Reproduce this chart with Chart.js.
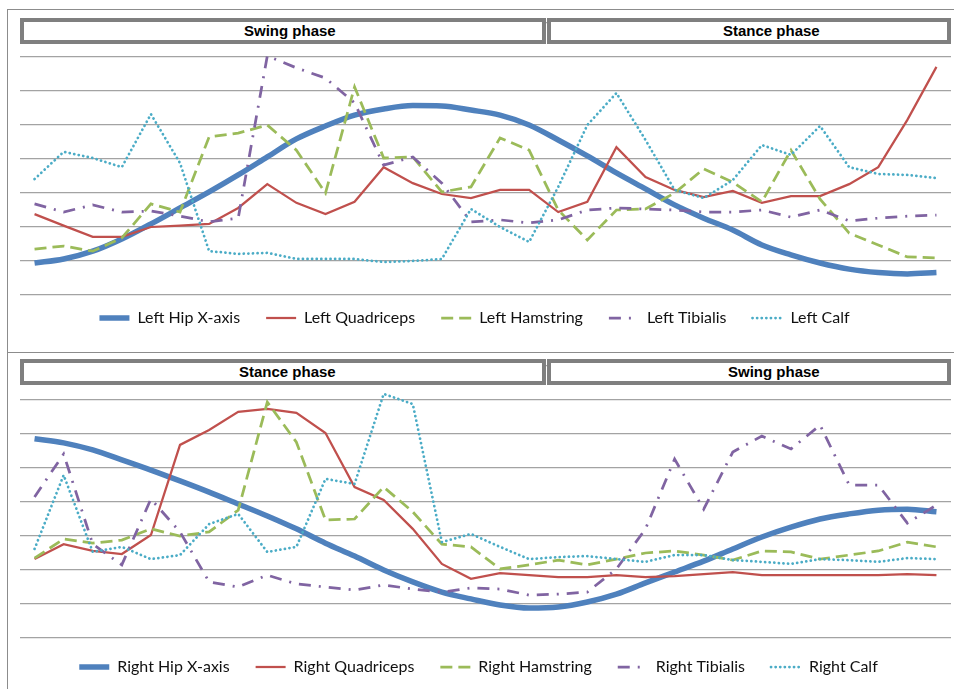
<!DOCTYPE html>
<html>
<head>
<meta charset="utf-8">
<script src="https://cdn.jsdelivr.net/npm/chart.js@4.4.1/dist/chart.umd.min.js"></script>
<style>
  body { margin: 0; width: 954px; height: 689px; overflow: hidden; background: #fff; position: relative; }
  .panel { position: absolute; left: 7px; width: 1000px; border: 1px solid #8c8c8c; }
  .phase { position: absolute; height: 26px; box-sizing: border-box; border: 4px solid #7f7f7f; background: #fff; z-index: 2; }
  .phase span { position: absolute; top: 0; font: bold 15px "Liberation Sans", Arial, sans-serif; line-height: 18px; white-space: nowrap; color: #000; }
  canvas { position: absolute; left: 0; z-index: 1; }
</style>
</head>
<body>
<div class="panel" style="top:9px;height:342px;"></div>
<div class="panel" style="top:352px;height:400px;"></div>

<div class="phase" style="left:20px;top:18px;width:526px;"><span style="left:220px">Swing phase</span></div>
<div class="phase" style="left:547px;top:18px;width:404px;"><span style="left:172px">Stance phase</span></div>
<div class="phase" style="left:20px;top:359px;width:526px;"><span style="left:215px">Stance phase</span></div>
<div class="phase" style="left:547px;top:359px;width:404px;"><span style="left:177px">Swing phase</span></div>

<canvas id="leftChart" width="954" height="350" style="top:0px"></canvas>
<canvas id="rightChart" width="954" height="350" style="top:343px"></canvas>

<script>
// gait cycle samples
const samples = [1, 2, 3, 4, 5, 6, 7, 8, 9, 10, 11, 12, 13, 14, 15, 16,
                 17, 18, 19, 20, 21, 22, 23, 24, 25, 26, 27, 28, 29, 30, 31, 32];

const leftNames = ["Left Hip X-axis", "Left Quadriceps", "Left Hamstring", "Left Tibialis", "Left Calf"];
const rightNames = ["Right Hip X-axis", "Right Quadriceps", "Right Hamstring", "Right Tibialis", "Right Calf"];

const leftHip = [0.94, 1.06, 1.29, 1.65, 2.09, 2.56, 3.03, 3.53, 4.06, 4.59, 4.97, 5.29, 5.47, 5.57, 5.56, 5.44,
                 5.29, 5.00, 4.56, 4.09, 3.59, 3.12, 2.65, 2.26, 1.91, 1.47, 1.18, 0.94, 0.76, 0.66, 0.62, 0.66];
const leftQuadriceps = [2.38, 2.04, 1.71, 1.71, 2.00, 2.04, 2.09, 2.56, 3.26, 2.71, 2.38, 2.74, 3.76, 3.29, 2.97, 2.85,
                        3.09, 3.09, 2.44, 2.74, 4.35, 3.47, 3.09, 2.88, 3.06, 2.71, 2.91, 2.91, 3.26, 3.76, 5.15, 6.71];
const leftHamstring = [1.35, 1.44, 1.29, 1.68, 2.68, 2.44, 4.65, 4.76, 5.00, 4.26, 3.00, 6.12, 4.03, 4.06, 3.03, 3.18,
                       4.62, 4.26, 2.50, 1.62, 2.50, 2.53, 3.00, 3.71, 3.32, 2.74, 4.26, 2.82, 1.82, 1.47, 1.12, 1.09];
const leftTibialis = [2.68, 2.44, 2.65, 2.44, 2.47, 2.32, 2.15, 2.26, 7.03, 6.68, 6.38, 5.65, 3.82, 4.06, 3.29, 2.15,
                      2.21, 2.12, 2.21, 2.50, 2.56, 2.53, 2.50, 2.44, 2.44, 2.50, 2.29, 2.50, 2.18, 2.26, 2.32, 2.35];
const leftCalf = [3.41, 4.21, 4.03, 3.76, 5.32, 3.88, 1.29, 1.21, 1.24, 1.06, 1.06, 1.06, 0.97, 1.00, 1.06, 2.53,
                  2.00, 1.56, 3.18, 5.00, 5.94, 4.56, 3.09, 2.85, 3.38, 4.41, 4.12, 4.97, 3.76, 3.56, 3.53, 3.44];

const rightHip = [5.86, 5.74, 5.53, 5.24, 4.94, 4.62, 4.29, 3.94, 3.59, 3.21, 2.79, 2.41, 2.00, 1.65, 1.35, 1.15,
                  0.97, 0.88, 0.91, 1.06, 1.29, 1.62, 1.94, 2.26, 2.62, 2.97, 3.26, 3.50, 3.65, 3.76, 3.79, 3.71];
const rightQuadriceps = [2.32, 2.76, 2.56, 2.47, 3.03, 5.68, 6.12, 6.65, 6.74, 6.62, 6.03, 4.44, 4.06, 3.21, 2.18, 1.74,
                         1.91, 1.85, 1.79, 1.79, 1.85, 1.79, 1.82, 1.88, 1.94, 1.85, 1.85, 1.85, 1.85, 1.85, 1.88, 1.85];
const rightHamstring = [2.35, 2.91, 2.79, 2.88, 3.21, 3.00, 3.12, 3.76, 6.94, 5.76, 3.47, 3.50, 4.44, 3.71, 2.76, 2.68,
                        2.03, 2.15, 2.29, 2.15, 2.32, 2.50, 2.56, 2.44, 2.29, 2.56, 2.53, 2.32, 2.44, 2.56, 2.82, 2.68];
const rightTibialis = [4.15, 5.41, 2.76, 2.15, 4.09, 3.12, 1.65, 1.50, 1.85, 1.59, 1.50, 1.41, 1.56, 1.44, 1.35, 1.47,
                       1.44, 1.26, 1.29, 1.35, 2.03, 3.21, 5.26, 3.79, 5.47, 5.94, 5.56, 6.26, 4.50, 4.50, 3.38, 3.91];
const rightCalf = [2.62, 4.79, 2.53, 2.68, 2.32, 2.44, 3.35, 3.65, 2.53, 2.68, 4.68, 4.53, 7.18, 6.88, 2.82, 3.06,
                   2.68, 2.32, 2.38, 2.41, 2.32, 2.24, 2.44, 2.44, 2.29, 2.24, 2.18, 2.32, 2.29, 2.24, 2.35, 2.32];

// hip, quadriceps, hamstring, tibialis, calf
const lineStyles = [
    { color: "#4F81BD", width: 5.5, dash: [], smooth: true },
    { color: "#C0504D", width: 2.25, dash: [] },
    { color: "#9BBB59", width: 2.75, dash: [12, 6] },
    { color: "#8064A2", width: 2.75, dash: [12, 8, 2, 8] },
    { color: "#4BACC6", width: 2.75, dash: [0.1, 4.5], cap: "round" }
];

// legend samples should look like the lines themselves
function lineLegendLabels(chart) {
    const items = Chart.defaults.plugins.legend.labels.generateLabels(chart);
    return items.map(item => {
        const ds = chart.data.datasets[item.datasetIndex];
        item.lineDash = ds.borderDash;
        item.lineCap = ds.borderCapStyle;
        item.lineWidth = ds.borderWidth;
        item.strokeStyle = ds.borderColor;
        return item;
    });
}

function makeChart(canvasId, names, series, legendShift) {
    const ctx = document.getElementById(canvasId).getContext("2d");
    return new Chart(ctx, {
        type: "line",
        data: {
            labels: samples,
            datasets: series.map((values, i) => ({
                label: names[i],
                data: values,
                borderColor: lineStyles[i].color,
                backgroundColor: lineStyles[i].color,
                borderWidth: lineStyles[i].width,
                borderDash: lineStyles[i].dash,
                borderCapStyle: lineStyles[i].cap || "butt",
                cubicInterpolationMode: lineStyles[i].smooth ? "monotone" : "default",
                tension: 0,
                pointRadius: 0,
                fill: false,
                order: series.length - i // first series drawn underneath
            }))
        },
        options: {
            responsive: false,
            animation: false,
            layout: { padding: { left: 20, right: 3, top: 23, bottom: 3 } },
            scales: {
                x: { display: false, offset: true },
                y: {
                    min: 0,
                    max: 8,
                    ticks: { display: false, stepSize: 1 },
                    grid: { color: "#a3a3a3", lineWidth: 1.25, drawTicks: false },
                    border: { display: false }
                }
            },
            plugins: {
                legend: {
                    position: "bottom",
                    labels: {
                        usePointStyle: true,
                        pointStyle: "line",
                        pointStyleWidth: 30,
                        padding: 26,
                        color: "#111",
                        font: { family: "Lato", size: 16 },
                        generateLabels: lineLegendLabels,
                        sort: (a, b) => a.datasetIndex - b.datasetIndex
                    }
                },
                tooltip: { enabled: false }
            }
        },
        plugins: [{
            id: "legendNudge",
            afterLayout(chart) {
                chart.legend.top += legendShift.y;
                chart.legend.bottom += legendShift.y;
                chart.legend.left += legendShift.x;
                chart.legend.right += legendShift.x;
            }
        }]
    });
}

makeChart("leftChart", leftNames, [leftHip, leftQuadriceps, leftHamstring, leftTibialis, leftCalf], { x: -11, y: -11 });
makeChart("rightChart", rightNames, [rightHip, rightQuadriceps, rightHamstring, rightTibialis, rightCalf], { x: -7, y: -5 });
</script>
</body>
</html>
